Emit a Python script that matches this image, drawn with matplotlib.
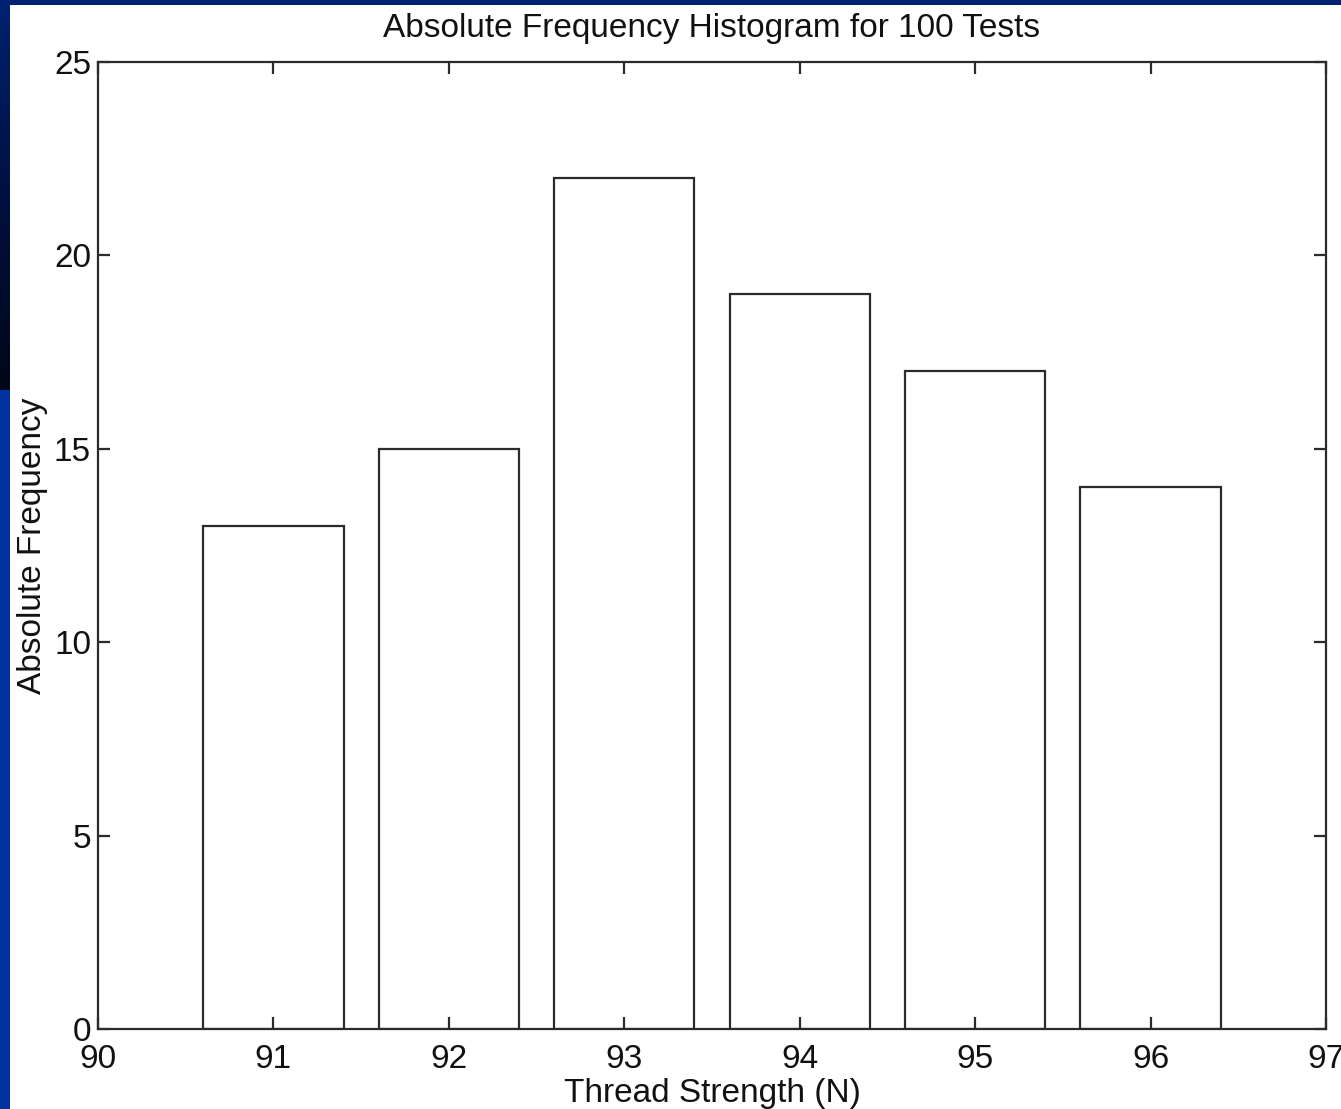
import numpy as np
import matplotlib
matplotlib.use("Agg")
import matplotlib.pyplot as plt
from matplotlib.patches import Rectangle
from matplotlib.colors import LinearSegmentedColormap

# Data
bin_centers = [91, 92, 93, 94, 95, 96]
frequencies = [13, 15, 22, 19, 17, 14]
x_ticks = [90, 91, 92, 93, 94, 95, 96, 97]
y_ticks = [0, 5, 10, 15, 20, 25]

plt.rcParams['font.family'] = ['Liberation Sans', 'DejaVu Sans']

W, H = 1341, 1109
fig = plt.figure(figsize=(W / 100, H / 100), dpi=100, facecolor='white')

# Blue frame strips (slide background)
fig.patches.append(Rectangle((0, 1 - 5 / H), 1, 5 / H, transform=fig.transFigure,
                             facecolor='#002270', edgecolor='none', zorder=0))
fig.patches.append(Rectangle((0, 0), 10 / W, 1 - 390 / H, transform=fig.transFigure,
                             facecolor='#0033A0', edgecolor='none', zorder=0))
gax = fig.add_axes([0, 1 - 390 / H, 10 / W, 390 / H])
grad = np.linspace(0, 1, 256).reshape(-1, 1)
cmap = LinearSegmentedColormap.from_list('g', ['#002270', '#001040', '#000818'])
gax.imshow(grad, aspect='auto', cmap=cmap, extent=[0, 1, 0, 1], origin='upper')
gax.set_axis_off()

left, right = 98 / W, 1326 / W
bottom, top = 1 - 1029 / H, 1 - 62 / H
ax = fig.add_axes([left, bottom, right - left, top - bottom])

line_col = '#2b2b2b'
txt_col = '#111111'
ax.bar(bin_centers, frequencies, width=0.8, facecolor='white',
       edgecolor=line_col, linewidth=1.6)

ax.set_xlim(90, 97)
ax.set_ylim(0, 25)
ax.set_xticks(x_ticks)
ax.set_yticks(y_ticks)
for s in ax.spines.values():
    s.set_color(line_col)
    s.set_linewidth(1.6)
ax.tick_params(direction='in', length=8.5, width=1.6, color=line_col,
               top=True, right=True, labelsize=24, labelcolor=txt_col)
ax.tick_params(axis='x', pad=11)
ax.tick_params(axis='y', pad=5)

ax.set_title('Absolute Frequency Histogram for 100 Tests', fontsize=24,
             color=txt_col, pad=18)
ax.set_xlabel('Thread Strength (N)', fontsize=24, color=txt_col, labelpad=2)
ax.set_ylabel('Absolute Frequency', fontsize=24, color=txt_col, labelpad=4)

fig.savefig('out.png', dpi=100, facecolor='white')
